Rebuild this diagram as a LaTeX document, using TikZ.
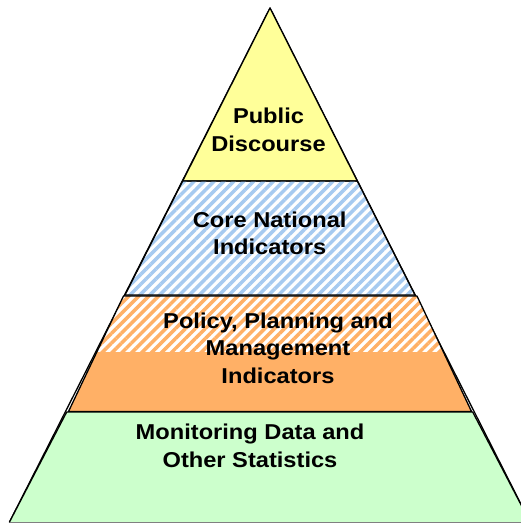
\documentclass[tikz,border=0pt]{standalone}
\usepackage{fontspec}
\setmainfont{Liberation Sans}[FakeStretch=1.1]
\usepackage{xcolor}
\usetikzlibrary{patterns.meta}
\definecolor{topyellow}{RGB}{255,255,153}
\definecolor{coreblue}{RGB}{166,202,240}
\definecolor{policyorange}{RGB}{255,176,102}
\definecolor{basegreen}{RGB}{204,255,204}
\tikzset{
x=1pt, y=-1pt, % one unit is one pixel of the picture, y grows downwards
layer/.style={draw=black, line width=1.3pt, line join=round}, % outline of a layer
stripes/.style={pattern={Lines[angle=45,distance=7pt,line width=3.5pt]}}, % diagonal hatching
layertext/.style={font=\fontsize{21.5}{27.5}\selectfont\bfseries, align=center, inner sep=0pt, anchor=north},
}

\begin{document}
\begin{tikzpicture}
    \useasboundingbox (0,0) rectangle (521,524);
    % corners of the layers
    \coordinate (apex) at (270,8);
    \coordinate (y1) at (182.7,181);  \coordinate (y2) at (357.3,181);
    \coordinate (b1) at (125,295);    \coordinate (b2) at (415,295);
    \coordinate (o1) at (123.5,296);  \coordinate (o2) at (417,296);
    \coordinate (o3) at (471.5,411.5); \coordinate (o4) at (68.5,411.5);
    \coordinate (g1) at (66.7,412);   \coordinate (g2) at (472.7,412);
    \coordinate (g3) at (530,522);    \coordinate (g4) at (9.5,522);

    % whole pyramid outline
    \draw[layer, fill=white] (apex) -- (g3) -- (g4) -- cycle;

    % public discourse
    \draw[layer, fill=topyellow] (apex) -- (y2) -- (y1) -- cycle;

    % core national indicators
    \path[stripes, pattern color=coreblue] (y1) -- (y2) -- (b2) -- (b1) -- cycle;
    \draw[layer] (y1) -- (y2) -- (b2) -- (b1) -- cycle;

    % policy, planning and management indicators
    \fill[policyorange] (o1) -- (o2) -- (o3) -- (o4) -- cycle;
    \begin{scope}
        \clip (o1) -- (o2) -- (o3) -- (o4) -- cycle;
        \fill[white] (0,296) rectangle (521,352);
        \path[stripes, pattern color=policyorange] (0,296) rectangle (521,352);
    \end{scope}
    \draw[layer] (o1) -- (o2) -- (o3) -- (o4) -- cycle;

    % monitoring data and other statistics
    \fill[basegreen] (g1) -- (g2) -- (g3) -- (g4) -- cycle;
    \draw[layer] (g4) -- (g1) -- (g2) -- (g3);
    \draw[gray, line width=1pt] (g4) -- (g3);

    \node[layertext] (public) at (268.5,108) {Public\\Discourse};
    \node[layertext] (core) at (269.7,211.7) {Core National\\Indicators};
    \node[layertext] (policy) at (278,312.3) {Policy, Planning and\\Management\\Indicators};
    \node[layertext] (monitoring) at (250,424) {Monitoring Data and\\Other Statistics};
\end{tikzpicture}
\end{document}
